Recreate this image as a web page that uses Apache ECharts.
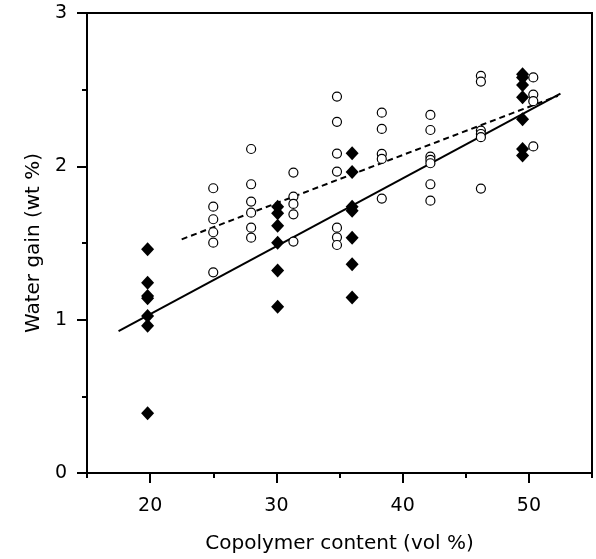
<!DOCTYPE html>
<html>
<head>
<meta charset="utf-8">
<script src="https://cdn.jsdelivr.net/npm/echarts@6/dist/echarts.min.js"></script>
<style>
  html, body { margin: 0; padding: 0; background: #fff; }
  #chart { width: 596px; height: 559px; }
</style>
</head>
<body>
<div id="chart"></div>
<script>
// filled diamonds: [copolymer vol %, water gain wt %]
var filledX = [19.8, 30.1, 36, 49.5];
var filledY = [
  [1.46, 1.24, 1.155, 1.14, 1.024, 0.96, 0.39],
  [1.737, 1.694, 1.613, 1.502, 1.32, 1.085],
  [2.085, 1.963, 1.737, 1.711, 1.535, 1.361, 1.144],
  [2.60, 2.58, 2.53, 2.45, 2.307, 2.113, 2.07]
];
// open circles
var openX = [25, 28, 31.35, 34.8, 38.35, 42.2, 46.2, 50.35];
var openY = [
  [1.857, 1.737, 1.655, 1.57, 1.502, 1.309],
  [2.113, 1.883, 1.77, 1.698, 1.60, 1.535],
  [1.959, 1.803, 1.755, 1.687, 1.509],
  [2.455, 2.29, 2.083, 1.966, 1.60, 1.537, 1.487],
  [2.35, 2.244, 2.081, 2.048, 1.79],
  [2.335, 2.237, 2.063, 2.042, 2.02, 1.883, 1.776],
  [2.59, 2.553, 2.233, 2.211, 2.19, 1.855],
  [2.58, 2.468, 2.425, 2.13]
];
// regression lines (end points)
var solidFit = [[17.5, 0.926], [52.5, 2.474]];
var dashFit = [[22.5, 1.524], [52.3, 2.46]];

var xMajor = [20, 30, 40, 50];

function toPoints(xs, ys) {
  var out = [];
  for (var i = 0; i < xs.length; i++) {
    for (var j = 0; j < ys[i].length; j++) {
      out.push([xs[i], ys[i][j]]);
    }
  }
  return out;
}

var font = 'DejaVu Sans, sans-serif';
var myChart = echarts.init(document.getElementById('chart'));
var option = {
  animation: false,
  grid: {
    left: 87, right: 4, top: 13, bottom: 86,
    show: true, borderColor: '#000', borderWidth: 2
  },
  xAxis: [
    {
      // minor ticks every 5, holds the data
      type: 'value',
      min: 15, max: 55, interval: 5,
      position: 'bottom',
      name: 'Copolymer content (vol %)',
      nameLocation: 'middle',
      nameGap: 61,
      nameTextStyle: { fontFamily: font, fontSize: 20, color: '#000' },
      axisLine: { show: true, onZero: false, lineStyle: { color: '#000', width: 2 } },
      axisTick: { show: true, length: 5, lineStyle: { color: '#000', width: 2 } },
      splitLine: { show: false },
      axisLabel: { show: false }
    },
    {
      // major ticks + labels
      type: 'value',
      min: 15, max: 55,
      position: 'bottom',
      axisLine: { show: false },
      axisTick: { show: true, length: 10, customValues: xMajor, lineStyle: { color: '#000', width: 2 } },
      splitLine: { show: false },
      axisLabel: {
        margin: 24, fontFamily: font, fontSize: 19, color: '#000',
        customValues: xMajor
      }
    }
  ],
  yAxis: {
    type: 'value',
    min: 0, max: 3, interval: 1,
    name: 'Water gain (wt %)',
    nameLocation: 'middle',
    nameGap: 41,
    nameTextStyle: { fontFamily: font, fontSize: 20, color: '#000' },
    axisLine: { show: true, lineStyle: { color: '#000', width: 2 } },
    axisTick: { show: true, length: 10, lineStyle: { color: '#000', width: 2 } },
    minorTick: { show: true, splitNumber: 2, length: 5, lineStyle: { color: '#000', width: 2 } },
    splitLine: { show: false },
    axisLabel: { margin: 20, fontFamily: font, fontSize: 19, color: '#000' }
  },
  series: [
    {
      type: 'line',
      data: solidFit,
      symbol: 'none',
      lineStyle: { color: '#000', width: 2 },
      z: 1
    },
    {
      type: 'line',
      data: dashFit,
      symbol: 'none',
      lineStyle: { color: '#000', width: 2, type: [6, 4] },
      z: 1
    },
    {
      type: 'scatter',
      data: toPoints(filledX, filledY),
      symbol: 'diamond',
      symbolSize: [13, 14],
      itemStyle: { color: '#000', opacity: 1 },
      z: 2
    },
    {
      type: 'scatter',
      data: toPoints(openX, openY),
      symbol: 'circle',
      symbolSize: 9,
      itemStyle: { color: '#fff', borderColor: '#000', borderWidth: 1.2, opacity: 1 },
      z: 3
    }
  ]
};
myChart.setOption(option);
</script>
</body>
</html>
